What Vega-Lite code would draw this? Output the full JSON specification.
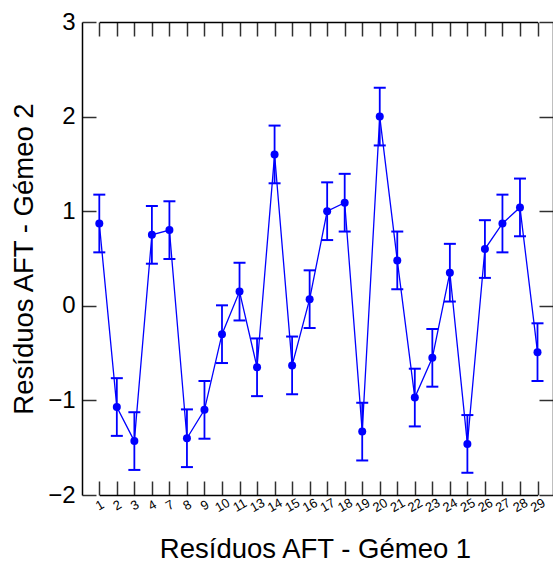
{
  "$schema": "https://vega.github.io/schema/vega-lite/v6.json",
  "width": 471,
  "height": 473,
  "autosize": "none",
  "padding": {"left": 82, "top": 22, "right": 0, "bottom": 71},
  "background": "white",
  "config": {
    "view": {"stroke": null},
    "font": "Liberation Sans",
    "axis": {
      "grid": false,
      "domainColor": "#000000",
      "domainWidth": 1.5,
      "tickColor": "#303030",
      "tickWidth": 1.5,
      "labelColor": "#000000",
      "titleColor": "#000000",
      "titleFontWeight": "normal"
    }
  },
  "data": {
    "values": [
      {"id": "1", "v": 0.87, "lo": 0.565, "hi": 1.175},
      {"id": "2", "v": -1.07, "lo": -1.375, "hi": -0.765},
      {"id": "3", "v": -1.43, "lo": -1.735, "hi": -1.125},
      {"id": "4", "v": 0.75, "lo": 0.445, "hi": 1.055},
      {"id": "7", "v": 0.8, "lo": 0.495, "hi": 1.105},
      {"id": "8", "v": -1.4, "lo": -1.705, "hi": -1.095},
      {"id": "9", "v": -1.1, "lo": -1.405, "hi": -0.795},
      {"id": "10", "v": -0.3, "lo": -0.605, "hi": 0.005},
      {"id": "11", "v": 0.15, "lo": -0.155, "hi": 0.455},
      {"id": "13", "v": -0.65, "lo": -0.955, "hi": -0.345},
      {"id": "14", "v": 1.6, "lo": 1.295, "hi": 1.905},
      {"id": "15", "v": -0.63, "lo": -0.935, "hi": -0.325},
      {"id": "16", "v": 0.07, "lo": -0.235, "hi": 0.375},
      {"id": "17", "v": 1.0, "lo": 0.695, "hi": 1.305},
      {"id": "18", "v": 1.09, "lo": 0.785, "hi": 1.395},
      {"id": "19", "v": -1.33, "lo": -1.635, "hi": -1.025},
      {"id": "20", "v": 2.0, "lo": 1.695, "hi": 2.305},
      {"id": "21", "v": 0.48, "lo": 0.175, "hi": 0.785},
      {"id": "22", "v": -0.97, "lo": -1.275, "hi": -0.665},
      {"id": "23", "v": -0.55, "lo": -0.855, "hi": -0.245},
      {"id": "24", "v": 0.35, "lo": 0.045, "hi": 0.655},
      {"id": "25", "v": -1.46, "lo": -1.765, "hi": -1.155},
      {"id": "26", "v": 0.6, "lo": 0.295, "hi": 0.905},
      {"id": "27", "v": 0.87, "lo": 0.565, "hi": 1.175},
      {"id": "28", "v": 1.04, "lo": 0.735, "hi": 1.345},
      {"id": "29", "v": -0.49, "lo": -0.795, "hi": -0.185}
    ]
  },
  "resolve": {"axis": {"x": "independent", "y": "independent"}},
  "layer": [
    {
      "mark": {"type": "line", "color": "#0000ff", "strokeWidth": 1.3},
      "encoding": {
        "x": {
          "field": "id", "type": "ordinal", "sort": null,
          "scale": {"type": "point", "range": [17.3, 455.5], "padding": 0},
          "axis": {
            "orient": "bottom",
            "title": "Resíduos AFT - Gémeo 1",
            "titleFontSize": 27.5,
            "titleX": 233,
            "titleY": 62,
            "titleBaseline": "alphabetic",
            "tickSize": -14,
            "labelAngle": -30,
            "labelAlign": "center",
            "labelBaseline": "middle",
            "labelFontSize": 13,
            "labelPadding": 24
          }
        },
        "y": {
          "field": "v", "type": "quantitative",
          "scale": {"domain": [-2, 3], "nice": false, "zero": false},
          "axis": {
            "orient": "left",
            "values": [-2, -1, 0, 1, 2, 3],
            "title": "Resíduos AFT - Gémeo 2",
            "titleFontSize": 27.5,
            "titleX": -50,
            "titleY": 236.5,
            "titleAngle": -90,
            "titleBaseline": "alphabetic",
            "titleAlign": "center",
            "tickSize": -14,
            "labelFontSize": 24,
            "labelPadding": 21,
            "labelBaseline": "middle"
          }
        }
      }
    },
    {
      "mark": {"type": "rule", "color": "#0000ff", "strokeWidth": 1.8},
      "encoding": {
        "x": {"field": "id", "type": "ordinal", "sort": null, "axis": null},
        "y": {"field": "lo", "type": "quantitative", "axis": null},
        "y2": {"field": "hi"}
      }
    },
    {
      "mark": {"type": "tick", "orient": "horizontal", "color": "#0000ff", "size": 12, "thickness": 2, "opacity": 1},
      "encoding": {
        "x": {"field": "id", "type": "ordinal", "sort": null, "axis": null},
        "y": {"field": "lo", "type": "quantitative", "axis": null}
      }
    },
    {
      "mark": {"type": "tick", "orient": "horizontal", "color": "#0000ff", "size": 12, "thickness": 2, "opacity": 1},
      "encoding": {
        "x": {"field": "id", "type": "ordinal", "sort": null, "axis": null},
        "y": {"field": "hi", "type": "quantitative", "axis": null}
      }
    },
    {
      "mark": {"type": "point", "filled": true, "color": "#0000ff", "size": 64, "opacity": 1},
      "encoding": {
        "x": {
          "field": "id", "type": "ordinal", "sort": null,
          "axis": {"orient": "top", "title": null, "labels": false, "tickSize": -14}
        },
        "y": {
          "field": "v", "type": "quantitative",
          "axis": {"orient": "right", "title": null, "labels": false, "values": [-2, -1, 0, 1, 2, 3], "tickSize": -14}
        }
      }
    }
  ]
}
